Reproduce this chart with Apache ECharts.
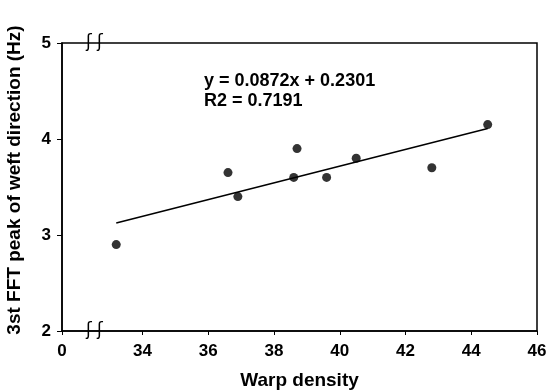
<!DOCTYPE html>
<html>
<head>
<meta charset="utf-8">
<script src="https://cdn.jsdelivr.net/npm/echarts@6/dist/echarts.min.js"></script>
<style>html,body{margin:0;padding:0;background:#fff}#c{width:548px;height:391px}</style>
</head>
<body>
<div id="c"></div>
<script>
// Data
var warpDensity = [33.2, 36.6, 36.9, 38.7, 38.6, 39.6, 40.5, 42.8, 44.5];
var fftPeak     = [2.9, 3.65, 3.4, 3.9, 3.6, 3.6, 3.8, 3.7, 4.15];
var trendX = [33.2, 44.5];
var trendY = [3.125, 4.11];
var xTickValues = [31.55, 34, 36, 38, 40, 42, 44, 46];
var xTickLabels = ['0', '34', '36', '38', '40', '42', '44', '46'];
var yTickValues = [2, 3, 4, 5];
var equationText = 'y = 0.0872x + 0.2301';
var r2Text = 'R2 = 0.7191';
var xName = 'Warp density';
var yName = '3st FFT peak of weft direction (Hz)';

var points = warpDensity.map(function (x, i) { return [x, fftPeak[i]]; });
var trend = trendX.map(function (x, i) { return [x, trendY[i]]; });

var chart = echarts.init(document.getElementById('c'));
var font = 'Liberation Sans, Arial, sans-serif';
chart.setOption({
  animation: false,
  backgroundColor: '#fff',
  grid: { left: 62, right: 11, top: 43, bottom: 60, outerBoundsMode: 'none', containLabel: false, show: true, borderColor: '#000', borderWidth: 1.5, backgroundColor: 'transparent' },
  xAxis: {
    type: 'value', min: xTickValues[0], max: 46,
    name: xName, nameLocation: 'middle', nameGap: 40,
    nameTextStyle: { fontFamily: font, fontWeight: 'bold', fontSize: 19, color: '#000' },
    axisLine: { show: true, onZero: false, lineStyle: { color: '#000', width: 1.5 } },
    axisTick: { show: true, length: 4, customValues: xTickValues, lineStyle: { color: '#000' } },
    axisLabel: {
      customValues: xTickValues, margin: 12,
      fontFamily: font, fontWeight: 'bold', fontSize: 17, color: '#000',
      formatter: function (v) { var i = xTickValues.indexOf(v); return i >= 0 ? xTickLabels[i] : ''; }
    },
    splitLine: { show: false }
  },
  yAxis: {
    type: 'value', min: yTickValues[0], max: yTickValues[yTickValues.length - 1], interval: 1,
    name: yName, nameLocation: 'middle', nameGap: 38,
    nameTextStyle: { fontFamily: font, fontWeight: 'bold', fontSize: 19, color: '#000', padding: [0, 0, 0, 14] },
    axisLine: { show: true, onZero: false, lineStyle: { color: '#000', width: 1.5 } },
    axisTick: { show: true, length: 5, lineStyle: { color: '#000' } },
    axisLabel: { margin: 11, fontFamily: font, fontWeight: 'bold', fontSize: 17, color: '#000' },
    splitLine: { show: false }
  },
  series: [
    {
      type: 'line', data: trend, symbol: 'none',
      lineStyle: { color: '#000', width: 1.5 }, z: 2
    },
    {
      type: 'scatter', data: points, symbol: 'circle', symbolSize: 9,
      itemStyle: { color: '#000' }, z: 3
    }
  ],
  graphic: [
    { type: 'text', left: 204, top: 71, style: { text: equationText + '\n' + r2Text, font: 'bold 18px ' + font, fill: '#000', lineHeight: 20 } },
    { type: 'text', left: 86, top: 34, style: { text: 'ʃ ʃ', font: '17px DejaVu Sans', fill: '#000' } },
    { type: 'text', left: 86, top: 322, style: { text: 'ʃ ʃ', font: '17px DejaVu Sans', fill: '#000' } }
  ]
});
</script>
</body>
</html>
